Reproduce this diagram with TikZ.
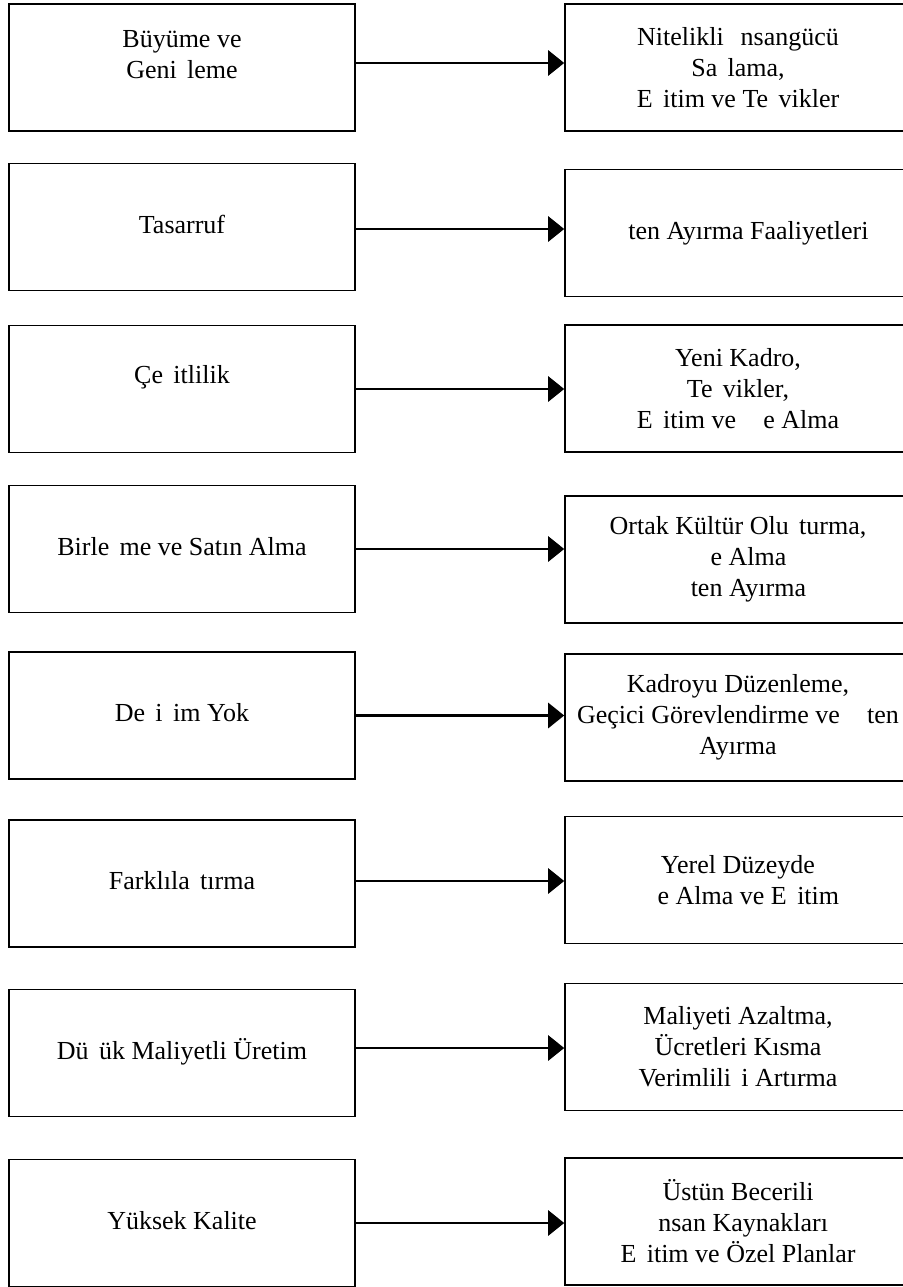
\documentclass[tikz,border=0pt]{standalone}
\usepackage{fontspec}
\setmainfont{Liberation Serif}
\usetikzlibrary{arrows.meta}
\newcommand\miss{\hspace{0.4em}}

\tikzset{box/.style={draw,line width=1.6pt,minimum width=346pt,minimum height=127pt,
                     align=center,font=\fontsize{26}{31}\selectfont},
         single/.style={text height=18pt,text depth=6pt},
         link/.style={line width=2.8pt,-{Triangle[length=16pt,width=25pt]}}}

\begin{document}
\begin{tikzpicture}[x=1pt,y=-1pt]
                  \useasboundingbox (0,0) rectangle (902,1287);
                  \node[box,text height=50pt,text depth=27pt] (g1) at (182,67.5) {Büyüme ve\\Geni\miss leme};
                  \node[box] (s1) at (738,67.5) {Nitelikli \miss nsangücü\\Sa\miss lama,\\E\miss itim ve Te\miss vikler};
                  \node[box,single] (g2) at (182,227) {Tasarruf};
                  \node[box,single] (s2) at (738,233) {\miss\miss ten Ayırma Faaliyetleri};
                  \node[box,text height=18pt,text depth=30pt] (g3) at (182,389) {Çe\miss itlilik};
                  \node[box] (s3) at (738,388.5) {Yeni Kadro,\\Te\miss vikler,\\E\miss itim ve \miss\miss e Alma};
                  \node[box,single] (g4) at (182,549) {Birle\miss me ve Satın Alma};
                  \node[box] (s4) at (738,559.5) {Ortak Kültür Olu\miss turma,\\\miss\miss e Alma\\\miss\miss ten Ayırma};
                  \node[box,single] (g5) at (182,715.5) {De\miss i\miss im Yok};
                  \node[box] (s5) at (738,717.5) {Kadroyu Düzenleme,\\Geçici Görevlendirme ve \miss\miss ten\\Ayırma};
                  \node[box,single] (g6) at (182,883.5) {Farklıla\miss tırma};
                  \node[box] (s6) at (738,880) {Yerel Düzeyde\\\miss\miss e Alma ve E\miss itim};
                  \node[box,single] (g7) at (182,1053) {Dü\miss ük Maliyetli Üretim};
                  \node[box] (s7) at (738,1047) {Maliyeti Azaltma,\\Ücretleri Kısma\\Verimlili\miss i Artırma};
                  \node[box,single] (g8) at (182,1223) {Yüksek Kalite};
                  \node[box] (s8) at (738,1221.5) {Üstün Becerili\\\miss nsan Kaynakları\\E\miss itim ve Özel Planlar};
                  \draw[link] ([yshift=4.5pt]g1.east) -- ([yshift=4.5pt]g1.east -| s1.west);
                  \draw[link] ([yshift=-2pt]g2.east) -- ([yshift=-2pt]g2.east -| s2.west);
                  \draw[link] (g3.east) -- (g3.east -| s3.west);
                  \draw[link] (g4.east) -- (g4.east -| s4.west);
                  \draw[link] (g5.east) -- (g5.east -| s5.west);
                  \draw[link] ([yshift=2.5pt]g6.east) -- ([yshift=2.5pt]g6.east -| s6.west);
                  \draw[link] ([yshift=5pt]g7.east) -- ([yshift=5pt]g7.east -| s7.west);
                  \draw[link] (g8.east) -- (g8.east -| s8.west);
              \end{tikzpicture}
\end{document}
